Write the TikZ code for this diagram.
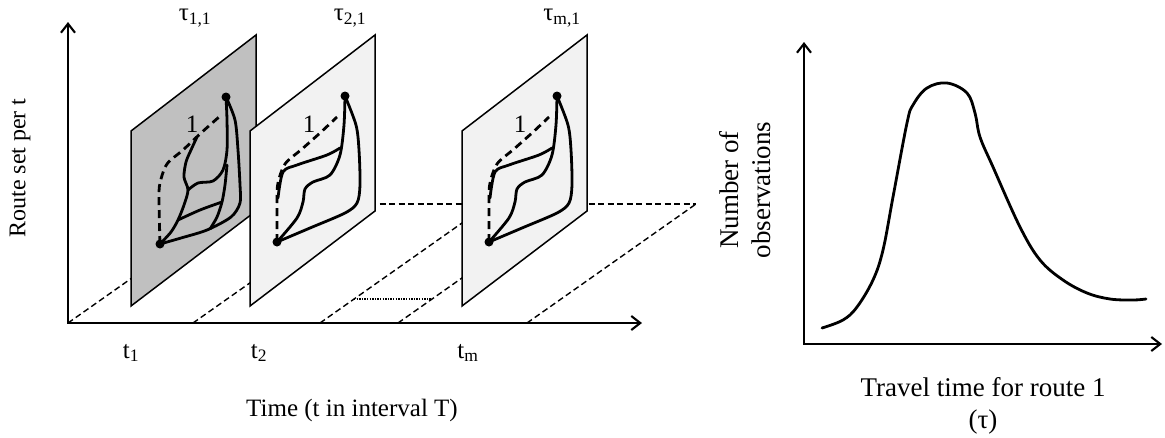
\documentclass[tikz,border=0pt]{standalone}
\usepackage{fontspec}
\setmainfont{Liberation Serif}
\usepackage{tikz}
\usetikzlibrary{arrows.meta}

\definecolor{sheetdark}{RGB}{192,192,192}
\definecolor{sheetlight}{RGB}{242,242,242}

\tikzset{
  axisline/.style={line width=2.1pt,{Straight Barb[length=9pt,width=14pt]}-{Straight Barb[length=9pt,width=14pt]}},
  groundline/.style={line width=1.4pt,dash pattern=on 6pt off 3.5pt},
  gapline/.style={line width=1.6pt,dash pattern=on 1.3pt off 1.3pt},
  sheet/.style={draw,line width=1.5pt,line join=miter},
  route/.style={line width=2.8pt,line cap=round,line join=round},
  routeone/.style={line width=2.8pt,dash pattern=on 8pt off 5pt},
  peak/.style={line width=2.8pt,line cap=round,line join=round},
  lbl/.style={inner sep=0.75pt,font=\fontsize{25}{29}\selectfont},
  biglbl/.style={inner sep=0.75pt,font=\fontsize{27}{32}\selectfont,align=center},
}

\begin{document}
\begin{tikzpicture}[x=1pt,y=1pt,yscale=-1,xscale=1]
\useasboundingbox (0,0) rectangle (1165,437);

%Shape: Axes [left]
\coordinate (ytop) at (68,22);
\coordinate (orig) at (68,323);
\coordinate (xend) at (642,323);
\draw [axisline] (ytop) -- (orig) -- (xend);

%Shape: Ground plane
\coordinate (ga) at (68,323);  \coordinate (ha) at (237,204);
\coordinate (gb) at (193,323); \coordinate (hb) at (362,204);
\coordinate (gc) at (320,323); \coordinate (hc) at (489,204);
\coordinate (gd) at (398,323); \coordinate (hd) at (567,204);
\coordinate (ge) at (527,323); \coordinate (he) at (696,204);
\draw [groundline] (ga) -- (ha);
\draw [groundline] (gb) -- (hb);
\draw [groundline] (gc) -- (hc);
\draw [groundline] (gd) -- (hd);
\draw [groundline] (ge) -- (he);
\draw [groundline] (ha) -- (he);
%Shape: Gap between t2 and tm
\coordinate (gapl) at (354,299);
\coordinate (gapr) at (432,299);
\draw [gapline] (gapl) -- (gapr);

%Shape: Sheet t1
\draw [sheet,fill=sheetdark] (131,131) -- (256,35) -- (256,211) -- (131,306) -- cycle;
\begin{scope}[shift={(131,0)}]
\coordinate (aone) at (95,97);
\coordinate (bone) at (29,244);
\draw [routeone] plot [smooth] coordinates {(bone) (28,200) (29,183) (36,164) (52,150) (70,133) (88,117)};
\draw [route] plot [smooth] coordinates {(bone) (50,238) (76,230) (100,217) (109,203) (109,185) (107,150) (104,120) (aone)};
\draw [route] plot [smooth] coordinates {(bone) (40,232) (47,220) (53,205) (57,190) (53,177) (55,162) (60,150) (66,137)};
\draw [route] plot [smooth] coordinates {(57,190) (67,183) (82,181) (92,170) (96,150) (96,120) (aone)};
\draw [route] plot [smooth] coordinates {(47,220) (69,210) (91,202)};
\draw [route] plot [smooth] coordinates {(79,229) (86,217) (91,202) (94,185) (96,165)};
\fill (aone) circle (4.5pt);
\fill (bone) circle (4.5pt);
\draw (61,124) node (oneone) [lbl] {1};
\end{scope}

%Shape: Sheet t2
\draw [sheet,fill=sheetlight] (250,131) -- (375,35) -- (375,211) -- (250,306) -- cycle;
\begin{scope}[shift={(250,0)}]
\coordinate (atwo) at (95,96);
\coordinate (btwo) at (27,242);
\draw [routeone] plot [smooth] coordinates {(btwo) (27,200) (28,183) (35,164) (52,149) (70,133) (87,117)};
\draw [route] plot [smooth] coordinates {(btwo) (60,228) (95,213) (107,203) (110,185) (109,150) (106,125) (atwo)};
\draw [route] plot [smooth] coordinates {(btwo) (47,218) (53,202) (55,189) (63,182) (80,175) (90,155) (94,125) (atwo)};
\draw [route] plot [smooth] coordinates {(28,198) (33,172) (47,165) (77,155) (90,148)};
\fill (atwo) circle (4.5pt);
\fill (btwo) circle (4.5pt);
\draw (59,124) node (onetwo) [lbl] {1};
\end{scope}

%Shape: Sheet tm
\draw [sheet,fill=sheetlight] (462,131) -- (587,35) -- (587,211) -- (462,306) -- cycle;
\begin{scope}[shift={(462,0)}]
\coordinate (am) at (95,96);
\coordinate (bm) at (27,242);
\draw [routeone] plot [smooth] coordinates {(bm) (27,200) (28,183) (35,164) (52,149) (70,133) (87,117)};
\draw [route] plot [smooth] coordinates {(bm) (60,228) (95,213) (107,203) (110,185) (109,150) (106,125) (am)};
\draw [route] plot [smooth] coordinates {(bm) (47,218) (53,202) (55,189) (63,182) (80,175) (90,155) (94,125) (am)};
\draw [route] plot [smooth] coordinates {(28,198) (33,172) (47,165) (77,155) (90,148)};
\fill (am) circle (4.5pt);
\fill (bm) circle (4.5pt);
\draw (58,124) node (onem) [lbl] {1};
\end{scope}

% Text Node
\draw (195,18) node (tauone) [lbl] {τ\textsubscript{1,1}};
% Text Node
\draw (350,18) node (tautwo) [lbl] {τ\textsubscript{2,1}};
% Text Node
\draw (562,18) node (taum) [lbl] {τ\textsubscript{m,1}};
% Text Node
\draw (131,353) node (tone) [lbl] {t\textsubscript{1}};
% Text Node
\draw (259,353) node (ttwo) [lbl] {t\textsubscript{2}};
% Text Node
\draw (468,353) node (tm) [lbl] {t\textsubscript{m}};
% Text Node
\draw (352,410) node (timelbl) [lbl] {Time (t in interval T)};
% Text Node
\draw (20,168) node (routelbl) [lbl,font=\fontsize{24}{28}\selectfont,rotate=90] {Route set per t};

%Shape: Axes [right]
\coordinate (ytoptwo) at (804,42);
\coordinate (origtwo) at (804,344);
\coordinate (xendtwo) at (1162,344);
\draw [axisline] (ytoptwo) -- (origtwo) -- (xendtwo);
%Shape: Distribution
\draw [peak] plot [smooth,tension=0.6] coordinates {(822,328) (843,320) (857,307) (873,280) (883,250) (893,197) (907,123) (913,105) (927,88) (947,83) (967,93) (975,113) (980,137) (993,167) (1020,227) (1040,260) (1063,280) (1087,293) (1110,299) (1133,300) (1146,299)};

% Text Node
\draw (745,190) node (obslbl) [biglbl,rotate=90] {Number of\\observations};
% Text Node
\draw (983,406) node (traveltime) [biglbl] {Travel time for route 1\\(τ)};

\end{tikzpicture}
\end{document}
